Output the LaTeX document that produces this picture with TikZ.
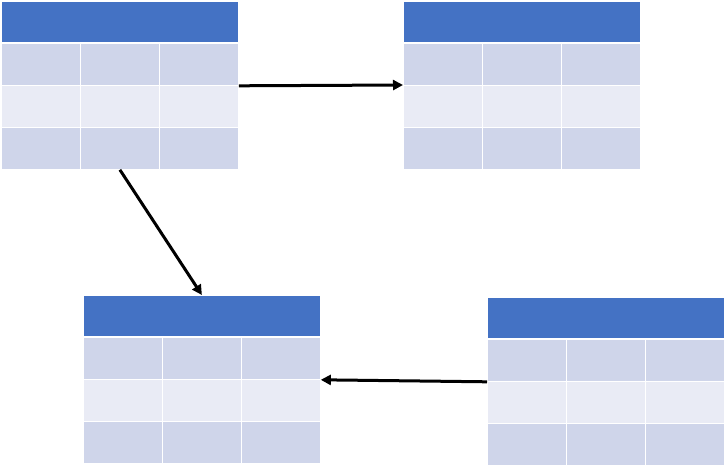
\documentclass[tikz,border=0pt]{standalone}
\usetikzlibrary{arrows.meta}
\definecolor{hdrblue}{HTML}{4472C4}
\definecolor{rowdark}{HTML}{CFD5EA}
\definecolor{rowlight}{HTML}{E9EBF5}
\tikzset{
  cellbase/.style={draw=white, line width=0.8pt, inner sep=0pt, anchor=north west, minimum width=79pt, minimum height=42pt},
  hdr/.style={cellbase, fill=hdrblue, minimum width=237pt, minimum height=41pt},
  celldark/.style={cellbase, fill=rowdark},
  celllight/.style={cellbase, fill=rowlight},
  link/.style={line width=3pt, -{Triangle[length=10pt,width=10pt]}}
}
\newcommand{\mytable}[3]{%
  \node[hdr] (#1h) at (#2,#3) {};
  \foreach \r/\st in {1/celldark,2/celllight,3/celldark}{
    \foreach \c in {1,2,3}{
      \node[\st] (#1r\r c\c) at ({#2+(\c-1)*79},{#3+42+(\r-1)*42}) {};
    }
  }
}
\begin{document}
\begin{tikzpicture}[x=1pt,y=-1pt]
\useasboundingbox (0,0) rectangle (727,466);
\mytable{ta}{1}{1}
\mytable{tb}{403}{1}
\mytable{tc}{83}{295}
\mytable{td}{487}{297}
\draw[link] (tar1c3.south east) -- (tbr2c1.north west);
\draw[link] (tar3c2.south) -- (tch.north);
\draw[link] (tdr1c1.south west) -- (tcr1c3.south east);
\end{tikzpicture}
\end{document}
